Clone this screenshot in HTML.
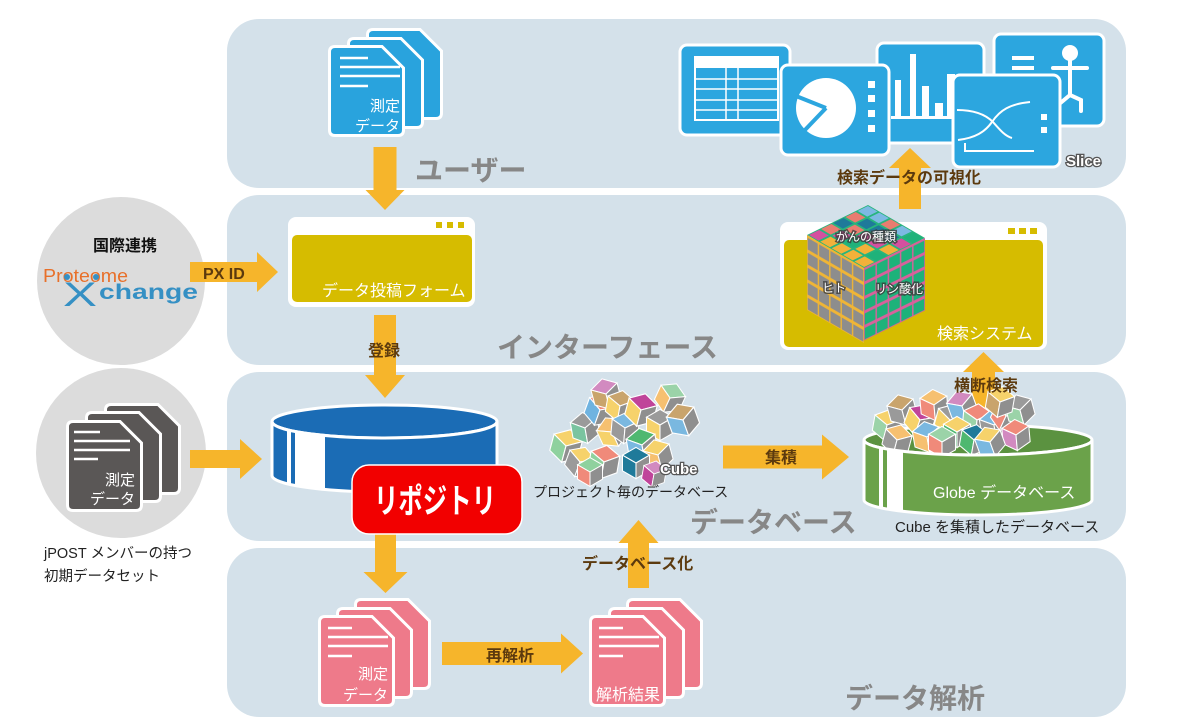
<!DOCTYPE html>
<html><head><meta charset="utf-8">
<style>
html,body{margin:0;padding:0;background:#fff;}
svg{display:block;}
text{font-family:"Liberation Sans","Noto Sans CJK JP",sans-serif;}
</style></head>
<body>
<svg width="1195" height="728" viewBox="0 0 1195 728" xmlns="http://www.w3.org/2000/svg">
<defs>
  <path id="doc" d="M7,1.5 H54 L75.5,23 V85 Q75.5,90.5 70,90.5 H7 Q1.5,90.5 1.5,85 V7 Q1.5,1.5 7,1.5 Z" stroke="#fff" stroke-width="3"/>
  <g id="cb" stroke="#fff" stroke-width="0.8">
    <path d="M0,-12L10.4,-6L0,0L-10.4,-6Z"/>
    <path d="M-10.4,-6L0,0L0,12L-10.4,6Z" fill="currentColor"/>
    <path d="M0,0L10.4,-6L10.4,6L0,12Z" fill="#8f8f8f"/>
  </g>
  <pattern id="pl" patternUnits="userSpaceOnUse" width="1" height="1">
    <rect width="1" height="1" fill="#f0b535"/>
    <rect x="0.06" y="0.16" width="0.88" height="0.78" fill="#8d8d8d"/>
  </pattern>
  <pattern id="pr" patternUnits="userSpaceOnUse" width="1" height="1">
    <rect width="1" height="1" fill="#d9609c"/>
    <rect x="0.06" y="0.16" width="0.88" height="0.78" fill="#1db27a"/>
  </pattern>
  <clipPath id="dbclip"><path d="M272,421.5 A112.5 16.5 0 0 0 497 421.5 V475.5 A112.5 16.5 0 0 1 272 475.5 Z"/></clipPath>
  <clipPath id="glclip"><path d="M864,440 A114 15 0 0 0 1092 440 V500 A114 15 0 0 1 864 500 Z"/></clipPath>
</defs>

<!-- panels -->
<rect x="227" y="19" width="899" height="169" rx="32" fill="#d4e1ea"/>
<rect x="227" y="195" width="899" height="170" rx="32" fill="#d4e1ea"/>
<rect x="227" y="372" width="899" height="169" rx="32" fill="#d4e1ea"/>
<rect x="227" y="548" width="899" height="169" rx="32" fill="#d4e1ea"/>

<!-- grey circles -->
<circle cx="121" cy="281" r="84" fill="#dcdcdc"/>
<circle cx="121" cy="453" r="85" fill="#dcdcdc"/>

<!-- section labels -->
<g font-size="28" font-weight="bold" fill="#878787">
  <text x="415" y="180">ユーザー</text>
  <text x="497" y="357">インターフェース</text>
  <text x="690" y="532">データベース</text>
  <text x="845" y="708">データ解析</text>
</g>

<!-- blue docs -->
<use href="#doc" x="366" y="28" fill="#29a3dd"/>
<use href="#doc" x="347" y="37" fill="#29a3dd"/>
<use href="#doc" x="328" y="45" fill="#29a3dd"/>
<g stroke="#fff" stroke-width="2.5">
  <line x1="340" y1="58" x2="368" y2="58"/>
  <line x1="340" y1="67" x2="400" y2="67"/>
  <line x1="340" y1="76" x2="400" y2="76"/>
  <line x1="340" y1="86" x2="368" y2="86"/>
</g>
<g fill="#fff" font-size="15" text-anchor="end">
  <text x="400" y="111">測定</text>
  <text x="400" y="131">データ</text>
</g>

<!-- chart icons -->
<rect x="680" y="45" width="110" height="90" rx="7" fill="#2ca6df" stroke="#fff" stroke-width="3"/>
<rect x="695" y="57" width="83" height="63" fill="none" stroke="#fff" stroke-width="2"/>
<rect x="695" y="57" width="83" height="11" fill="#fff"/>
<g stroke="#fff" stroke-width="1.5">
  <line x1="695" y1="79" x2="778" y2="79"/>
  <line x1="695" y1="89" x2="778" y2="89"/>
  <line x1="695" y1="100" x2="778" y2="100"/>
  <line x1="695" y1="110" x2="778" y2="110"/>
  <line x1="726" y1="68" x2="726" y2="120"/>
  <line x1="738" y1="68" x2="738" y2="120"/>
</g>
<!-- bar chart -->
<rect x="877" y="43" width="107" height="100" rx="7" fill="#2ca6df" stroke="#fff" stroke-width="3"/>
<g fill="#fff">
  <rect x="895" y="80" width="6" height="37"/>
  <rect x="910" y="54" width="6" height="63"/>
  <rect x="922" y="86" width="7" height="31"/>
  <rect x="935" y="103" width="8" height="14"/>
  <rect x="947" y="74" width="8" height="43"/>
  <rect x="961" y="96" width="8" height="21"/>
  <rect x="891" y="116" width="84" height="3"/>
</g>
<!-- pie -->
<rect x="781" y="65" width="108" height="90" rx="7" fill="#2ca6df" stroke="#fff" stroke-width="3"/>
<circle cx="826" cy="108" r="30" fill="#fff"/>
<g stroke="#2ca6df" stroke-width="4">
  <line x1="826" y1="108" x2="796" y2="96"/>
  <line x1="826" y1="108" x2="804" y2="131"/>
</g>
<g fill="#fff">
  <rect x="868" y="81" width="7" height="7"/>
  <rect x="868" y="95" width="7" height="7"/>
  <rect x="868" y="110" width="7" height="7"/>
  <rect x="868" y="125" width="7" height="7"/>
</g>
<!-- person -->
<rect x="994" y="34" width="110" height="92" rx="7" fill="#2ca6df" stroke="#fff" stroke-width="3"/>
<g fill="#fff">
  <rect x="1012" y="56" width="22" height="4"/>
  <rect x="1012" y="66" width="22" height="4"/>
</g>
<circle cx="1070" cy="53" r="8" fill="#fff"/>
<g stroke="#fff" stroke-width="4" fill="none" stroke-linecap="round">
  <line x1="1053" y1="68" x2="1087" y2="68"/>
  <line x1="1070" y1="58" x2="1070" y2="95"/>
  <polyline points="1070,95 1081,100 1081,111"/>
  <polyline points="1070,95 1058,105 1058,112"/>
</g>
<!-- line chart -->
<rect x="953" y="75" width="107" height="92" rx="7" fill="#2ca6df" stroke="#fff" stroke-width="3"/>
<g stroke="#fff" stroke-width="2" fill="none">
  <path d="M957,110 C972,110 985,114 993,122 C1000,130 1005,136 1012,138"/>
  <path d="M958,140 C975,138 985,132 992,122 C1000,110 1010,104 1030,102"/>
  <polyline points="965,143 965,151 1034,151"/>
</g>
<g fill="#fff">
  <rect x="1041" y="114" width="6" height="6"/>
  <rect x="1041" y="127" width="6" height="6"/>
</g>
<text x="1066" y="166" font-size="15" font-weight="bold" fill="#fff" stroke="#555" stroke-width="2.5" paint-order="stroke">Slice</text>

<!-- form window -->
<rect x="288" y="217" width="187" height="90" rx="8" fill="#fff"/>
<rect x="292" y="235" width="180" height="67" rx="5" fill="#d6bc00"/>
<g fill="#d6bc00">
  <rect x="436" y="222" width="6" height="6"/>
  <rect x="447" y="222" width="6" height="6"/>
  <rect x="458" y="222" width="6" height="6"/>
</g>
<text x="322" y="296" font-size="16" fill="#fff">データ投稿フォーム</text>

<!-- search window -->
<rect x="780" y="222" width="267" height="128" rx="8" fill="#fff"/>
<rect x="784" y="240" width="259" height="107" rx="5" fill="#d6bc00"/>
<g fill="#d6bc00">
  <rect x="1008" y="228" width="7" height="6"/>
  <rect x="1019" y="228" width="7" height="6"/>
  <rect x="1030" y="228" width="7" height="6"/>
</g>
<text x="937" y="339" font-size="16" fill="#fff">検索システム</text>

<!-- arrows -->
<g fill="#f6b52b">
  <polygon points="373.5,147 396.5,147 396.5,190 404.5,190 385,210 365.5,190 373.5,190"/>
  <polygon points="374,315 396,315 396,375 405,375 385,398 365,375 374,375"/>
  <polygon points="375,533 396,533 396,572 407.5,572 385.5,593 363.5,572 375,572"/>
  <polygon points="899,209 921,209 921,168 931,168 910,148 889,168 899,168"/>
  <polygon points="972,413 995,413 995,372 1004,372 983.5,352 963,372 972,372"/>
  <polygon points="628,588 649,588 649,543 658.5,543 638.5,520 618.5,543 628,543"/>
  <polygon points="190,262 257,262 257,252 278,272 257,292 257,282 190,282"/>
  <polygon points="190,450 240,450 240,439 262,459 240,479 240,468 190,468"/>
  <polygon points="723,445.5 822,445.5 822,434.5 849,457 822,479.5 822,468.5 723,468.5"/>
  <polygon points="442,642 561,642 561,633.5 583,653.5 561,673.5 561,665 442,665"/>
</g>

<!-- rubik cube -->
<g transform="matrix(12.2 -6 11.4 6.6 807 235)">
  <rect x="0" y="0" width="5" height="5" fill="#27b57d"/>
  <rect x="0.08" y="0.08" width="0.84" height="0.84" fill="#d4509f"/>
  <rect x="1.08" y="0.08" width="0.84" height="0.84" fill="#e97c70"/>
  <rect x="2.08" y="0.08" width="0.84" height="0.84" fill="#1f7a9a"/>
  <rect x="3.08" y="0.08" width="0.84" height="0.84" fill="#e97c70"/>
  <rect x="4.08" y="0.08" width="0.84" height="0.84" fill="#7db9e3"/>
  <rect x="0.08" y="1.08" width="0.84" height="0.84" fill="#f2b13a"/>
  <rect x="1.08" y="1.08" width="0.84" height="0.84" fill="#d4509f"/>
  <rect x="2.08" y="1.08" width="0.84" height="0.84" fill="#e97c70"/>
  <rect x="3.08" y="1.08" width="0.84" height="0.84" fill="#1f7a9a"/>
  <rect x="4.08" y="1.08" width="0.84" height="0.84" fill="#7db9e3"/>
  <rect x="0.08" y="2.08" width="0.84" height="0.84" fill="#f2b13a"/>
  <rect x="1.08" y="2.08" width="0.84" height="0.84" fill="#1fb27a"/>
  <rect x="2.08" y="2.08" width="0.84" height="0.84" fill="#d4509f"/>
  <rect x="3.08" y="2.08" width="0.84" height="0.84" fill="#1f7a9a"/>
  <rect x="4.08" y="2.08" width="0.84" height="0.84" fill="#e97c70"/>
  <rect x="0.08" y="3.08" width="0.84" height="0.84" fill="#f2b13a"/>
  <rect x="1.08" y="3.08" width="0.84" height="0.84" fill="#f2b13a"/>
  <rect x="2.08" y="3.08" width="0.84" height="0.84" fill="#d4509f"/>
  <rect x="3.08" y="3.08" width="0.84" height="0.84" fill="#1f7a9a"/>
  <rect x="4.08" y="3.08" width="0.84" height="0.84" fill="#7db9e3"/>
  <rect x="0.08" y="4.08" width="0.84" height="0.84" fill="#f2b13a"/>
  <rect x="1.08" y="4.08" width="0.84" height="0.84" fill="#1fb27a"/>
  <rect x="2.08" y="4.08" width="0.84" height="0.84" fill="#f2b13a"/>
  <rect x="3.08" y="4.08" width="0.84" height="0.84" fill="#d4509f"/>
  <rect x="4.08" y="4.08" width="0.84" height="0.84" fill="#1fb27a"/>
</g>
<g transform="matrix(11.4 6.6 0 15 807 235)">
  <rect x="0" y="0" width="5" height="5" fill="url(#pl)"/>
</g>
<g transform="matrix(12.2 -6 0 14.5 864 268)">
  <rect x="0" y="0" width="5" height="5" fill="url(#pr)"/>
</g>
<g font-size="12" fill="#fff" stroke="#3a3a3a" stroke-width="3" paint-order="stroke" stroke-opacity="0.8">
  <text x="866" y="241" text-anchor="middle">がんの種類</text>
  <text x="822" y="292">ヒト</text>
  <text x="875" y="293">リン酸化</text>
</g>

<!-- gray docs -->
<use href="#doc" x="104" y="403" fill="#5a5756"/>
<use href="#doc" x="85" y="411" fill="#5a5756"/>
<use href="#doc" x="66" y="420" fill="#5a5756"/>
<g stroke="#fff" stroke-width="2.5">
  <line x1="74" y1="432" x2="100" y2="432"/>
  <line x1="74" y1="441" x2="130" y2="441"/>
  <line x1="74" y1="450" x2="130" y2="450"/>
  <line x1="74" y1="459" x2="98" y2="459"/>
</g>
<g fill="#fff" font-size="15" text-anchor="end">
  <text x="135" y="485">測定</text>
  <text x="135" y="504">データ</text>
</g>
<g font-size="14.5" fill="#222">
  <text x="44" y="558">jPOST メンバーの持つ</text>
  <text x="44" y="581">初期データセット</text>
</g>

<!-- international -->
<text x="93" y="251" font-size="16" font-weight="bold" fill="#111">国際連携</text>
<text x="43" y="282" font-size="18" fill="#e8702a" textLength="85" lengthAdjust="spacingAndGlyphs">Proteome</text>
<circle cx="67" cy="277" r="3" fill="#3590c4"/>
<circle cx="96" cy="277" r="3" fill="#3590c4"/>
<text x="63" y="306" font-size="34" fill="#3590c4" textLength="34" lengthAdjust="spacingAndGlyphs">X</text>
<text x="99" y="299" font-size="21" font-weight="bold" fill="#3590c4" textLength="99" lengthAdjust="spacingAndGlyphs">change</text>

<!-- blue DB -->
<ellipse cx="384.5" cy="421.5" rx="112.5" ry="16.5" fill="#1b6cb5" stroke="#fff" stroke-width="3"/>
<path d="M272,421.5 A112.5 16.5 0 0 0 497 421.5 V475.5 A112.5 16.5 0 0 1 272 475.5 Z" fill="#1b6cb5"/>
<g clip-path="url(#dbclip)" fill="#fff">
  <rect x="287" y="420" width="4" height="80"/>
  <rect x="295" y="420" width="30" height="80"/>
</g>
<path d="M272,421.5 A112.5 16.5 0 0 0 497 421.5 V475.5 A112.5 16.5 0 0 1 272 475.5 Z" fill="none" stroke="#fff" stroke-width="3"/>

<!-- repository -->
<rect x="352" y="465" width="170" height="69" rx="17" fill="#f20000" stroke="#fff" stroke-width="1.5"/>
<text x="374" y="513" font-size="34" font-weight="bold" fill="#fff" textLength="122" lengthAdjust="spacingAndGlyphs">リポジトリ</text>

<!-- project cubes -->
<g>
  <use href="#cb" transform="translate(566,446) rotate(15) scale(1.4)" fill="#f6d26b" color="#8fd19e"/>
  <use href="#cb" transform="translate(580,462) rotate(20) scale(1.3)" fill="#f6d26b" color="#9a9a9a"/>
  <use href="#cb" transform="translate(585,428) rotate(-10) scale(1.3)" fill="#9a9a9a" color="#7ac4a0"/>
  <use href="#cb" transform="translate(600,410) rotate(20) scale(1.35)" fill="#f08a7a" color="#6fb3e0"/>
  <use href="#cb" transform="translate(606,394) rotate(-15) scale(1.3)" fill="#d28ac0" color="#c9a46c"/>
  <use href="#cb" transform="translate(620,406) rotate(10) scale(1.3)" fill="#c9a46c" color="#f6d26b"/>
  <use href="#cb" transform="translate(612,432) rotate(-25) scale(1.3)" fill="#f6c070" color="#f6d26b"/>
  <use href="#cb" transform="translate(625,428) rotate(5) scale(1.3)" fill="#7ab8e0" color="#9a9a9a"/>
  <use href="#cb" transform="translate(641,410) rotate(15) scale(1.4)" fill="#c0449a" color="#f6d26b"/>
  <use href="#cb" transform="translate(670,398) rotate(25) scale(1.3)" fill="#9bd3a8" color="#f6c070"/>
  <use href="#cb" transform="translate(660,425) scale(1.3)" fill="#9a9a9a" color="#f6d26b"/>
  <use href="#cb" transform="translate(683,420) rotate(-20) scale(1.4)" fill="#c9a46c" color="#7ab8e0"/>
  <use href="#cb" transform="translate(604,462) rotate(10) scale(1.4)" fill="#f08a7a" color="#8fd19e"/>
  <use href="#cb" transform="translate(590,472) scale(1.2)" fill="#8fd19e" color="#f08a7a"/>
  <use href="#cb" transform="translate(642,445) rotate(-10) scale(1.4)" fill="#4fb870" color="#7ab8e0"/>
  <use href="#cb" transform="translate(658,455) rotate(-15) scale(1.3)" fill="#f6d26b" color="#f6c070"/>
  <use href="#cb" transform="translate(636,463) scale(1.3)" fill="#1f7a9a" color="#1f7a9a"/>
  <use href="#cb" transform="translate(654,474) rotate(10) scale(1.1)" fill="#d28ac0" color="#c0449a"/>
</g>
<text x="660" y="474" font-size="15" font-weight="bold" fill="#fff" stroke="#555" stroke-width="2.5" paint-order="stroke">Cube</text>
<text x="533" y="497" font-size="14" fill="#222">プロジェクト毎のデータベース</text>

<!-- globe -->
<ellipse cx="978" cy="440" rx="114" ry="15" fill="#5b9240" stroke="#fff" stroke-width="3"/>
<g>
  <use href="#cb" transform="translate(887,425) rotate(10) scale(1.3)" fill="#f6d26b" color="#9bd3a8"/>
  <use href="#cb" transform="translate(902,410) rotate(-15) scale(1.3)" fill="#c9a46c" color="#9a9a9a"/>
  <use href="#cb" transform="translate(920,420) rotate(20) scale(1.35)" fill="#c0449a" color="#f6d26b"/>
  <use href="#cb" transform="translate(934,405) rotate(-5) scale(1.3)" fill="#f6c070" color="#f08a7a"/>
  <use href="#cb" transform="translate(950,420) rotate(15) scale(1.35)" fill="#9a9a9a" color="#f6d26b"/>
  <use href="#cb" transform="translate(962,406) rotate(-20) scale(1.3)" fill="#d28ac0" color="#7ab8e0"/>
  <use href="#cb" transform="translate(977,420) rotate(5) scale(1.35)" fill="#f08a7a" color="#9bd3a8"/>
  <use href="#cb" transform="translate(994,425) rotate(-10) scale(1.3)" fill="#7ab8e0" color="#9a9a9a"/>
  <use href="#cb" transform="translate(1006,416) rotate(25) scale(1.3)" fill="#9bd3a8" color="#f08a7a"/>
  <use href="#cb" transform="translate(1020,410) rotate(-15) scale(1.3)" fill="#9a9a9a" color="#9bd3a8"/>
  <use href="#cb" transform="translate(1000,402) rotate(10) scale(1.3)" fill="#f6d26b" color="#c9a46c"/>
  <use href="#cb" transform="translate(957,432) scale(1.3)" fill="#f6d26b" color="#4fb870"/>
  <use href="#cb" transform="translate(927,437) rotate(-10) scale(1.3)" fill="#7ab8e0" color="#f6c070"/>
  <use href="#cb" transform="translate(897,440) rotate(15) scale(1.3)" fill="#f6c070" color="#9a9a9a"/>
  <use href="#cb" transform="translate(1016,435) rotate(-5) scale(1.3)" fill="#f08a7a" color="#d28ac0"/>
  <use href="#cb" transform="translate(974,440) rotate(10) scale(1.3)" fill="#1f7a9a" color="#4fb870"/>
  <use href="#cb" transform="translate(942,442) scale(1.3)" fill="#9bd3a8" color="#f08a7a"/>
  <use href="#cb" transform="translate(990,442) rotate(-20) scale(1.3)" fill="#f6d26b" color="#7ab8e0"/>
</g>
<path d="M864,440 A114 15 0 0 0 1092 440 V500 A114 15 0 0 1 864 500 Z" fill="#6ba24a"/>
<g clip-path="url(#glclip)" fill="#fff">
  <rect x="879" y="430" width="4" height="90"/>
  <rect x="887" y="430" width="16" height="90"/>
</g>
<path d="M864,440 A114 15 0 0 0 1092 440 V500 A114 15 0 0 1 864 500 Z" fill="none" stroke="#fff" stroke-width="3"/>
<text x="933" y="498" font-size="16" fill="#fff">Globe データベース</text>
<text x="895" y="532" font-size="15" fill="#222">Cube を集積したデータベース</text>

<!-- pink docs -->
<use href="#doc" x="354" y="598" fill="#ee7a8a"/>
<use href="#doc" x="336" y="607" fill="#ee7a8a"/>
<use href="#doc" x="318" y="615" fill="#ee7a8a"/>
<g stroke="#fff" stroke-width="2.5">
  <line x1="328" y1="628" x2="352" y2="628"/>
  <line x1="328" y1="637" x2="388" y2="637"/>
  <line x1="328" y1="646" x2="388" y2="646"/>
  <line x1="328" y1="656" x2="352" y2="656"/>
</g>
<g fill="#fff" font-size="15" text-anchor="end">
  <text x="388" y="679">測定</text>
  <text x="388" y="700">データ</text>
</g>
<use href="#doc" x="626" y="598" fill="#ee7a8a"/>
<use href="#doc" x="608" y="607" fill="#ee7a8a"/>
<use href="#doc" x="589" y="615" fill="#ee7a8a"/>
<g stroke="#fff" stroke-width="2.5">
  <line x1="599" y1="628" x2="623" y2="628"/>
  <line x1="599" y1="637" x2="659" y2="637"/>
  <line x1="599" y1="646" x2="659" y2="646"/>
  <line x1="599" y1="656" x2="623" y2="656"/>
</g>
<text x="596" y="700" font-size="16" fill="#fff">解析結果</text>

<!-- arrow labels -->
<g font-size="16" font-weight="bold" fill="#5c3a0e">
  <text x="837" y="183">検索データの可視化</text>
  <text x="203" y="279">PX ID</text>
  <text x="368" y="356">登録</text>
  <text x="954" y="391">横断検索</text>
  <text x="765" y="463">集積</text>
  <text x="582" y="569">データベース化</text>
  <text x="486" y="661">再解析</text>
</g>
</svg>
</body></html>
